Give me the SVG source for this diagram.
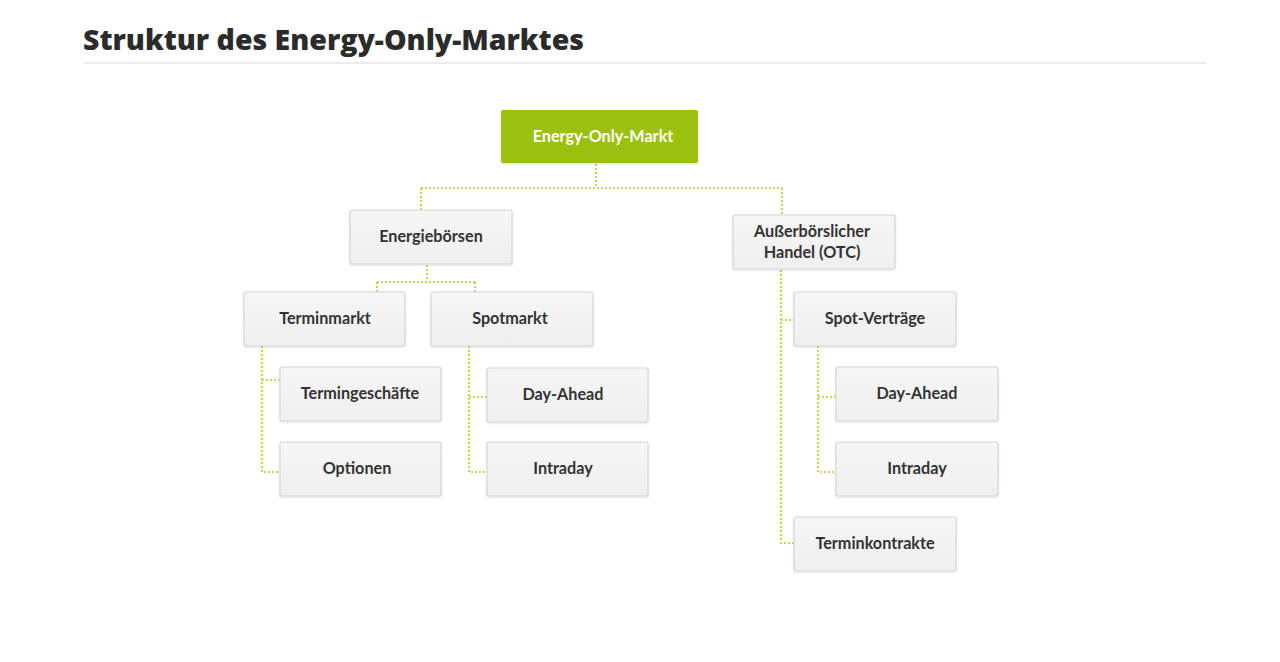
<svg xmlns="http://www.w3.org/2000/svg" width="1280" height="662" viewBox="0 0 1280 662">
<defs>
<linearGradient id="g" x1="0" y1="0" x2="0" y2="1"><stop offset="0" stop-color="#f6f6f6"/><stop offset="1" stop-color="#efefef"/></linearGradient>
<filter id="sh" x="-10%" y="-10%" width="120%" height="130%"><feDropShadow dx="0" dy="1" stdDeviation="1" flood-color="#000" flood-opacity="0.12"/></filter>
</defs>
<style>
.box{fill:url(#g);stroke:#d6d6d6;stroke-width:1.2;filter:url(#sh)}
.lbl{font-family:Lato,"Open Sans","Liberation Sans",sans-serif;font-weight:bold;font-size:16.2px;fill:#333;text-anchor:middle}
.con{fill:none;stroke:#b3cc24;stroke-width:1.6;stroke-dasharray:2 2}
</style>
<rect width="1280" height="662" fill="#fff"/>
<text x="83" y="50" font-family="'Open Sans','Liberation Sans',sans-serif" font-weight="800" font-size="27.5" fill="#2b2b2b" textLength="501" lengthAdjust="spacingAndGlyphs">Struktur des Energy-Only-Marktes</text>
<line x1="83" y1="63" x2="1206" y2="63" stroke="#d9d9d9" stroke-width="1.2"/>
<g id="connectors">
<path class="con" d="M596 164V188M421 188H782M421 188V210M782 188V215"/>
<path class="con" d="M427 265V282M377 282H475M377 282V292M475 282V292"/>
<path class="con" d="M262 346V472H280M262 380H280"/>
<path class="con" d="M469 346V472H487M469 397H487"/>
<path class="con" d="M781 270V543H794M781 320H794"/>
<path class="con" d="M818 346V472H836M818 397H836"/>
</g>
<g id="n-root"><rect x="501" y="110" width="197" height="53" rx="2" fill="#9bc00f" filter="url(#sh)"/><text class="lbl" x="603" y="142" style="fill:#fff">Energy-Only-Markt</text></g>
<g id="n-boersen"><rect class="box" x="350" y="210" width="162" height="54" rx="2"/><text class="lbl" x="431" y="242">Energiebörsen</text></g>
<g id="n-otc"><rect class="box" x="733" y="215" width="162" height="54" rx="2"/><text class="lbl" x="812" y="237">Außerbörslicher</text><text class="lbl" x="812" y="258">Handel (OTC)</text></g>
<g id="n-terminmarkt"><rect class="box" x="244" y="292" width="161" height="54" rx="2"/><text class="lbl" x="325" y="324">Terminmarkt</text></g>
<g id="n-spotmarkt"><rect class="box" x="431" y="292" width="162" height="54" rx="2"/><text class="lbl" x="510" y="324">Spotmarkt</text></g>
<g id="n-termingeschaefte"><rect class="box" x="280" y="367" width="161" height="54" rx="2"/><text class="lbl" x="360" y="399">Termingeschäfte</text></g>
<g id="n-optionen"><rect class="box" x="280" y="442" width="161" height="54" rx="2"/><text class="lbl" x="357" y="474">Optionen</text></g>
<g id="n-dayahead1"><rect class="box" x="487" y="368" width="161" height="54" rx="2"/><text class="lbl" x="563" y="400">Day-Ahead</text></g>
<g id="n-intraday1"><rect class="box" x="487" y="442" width="161" height="54" rx="2"/><text class="lbl" x="563" y="474">Intraday</text></g>
<g id="n-spotvertraege"><rect class="box" x="794" y="292" width="162" height="54" rx="2"/><text class="lbl" x="875" y="324">Spot-Verträge</text></g>
<g id="n-dayahead2"><rect class="box" x="836" y="367" width="162" height="54" rx="2"/><text class="lbl" x="917" y="399">Day-Ahead</text></g>
<g id="n-intraday2"><rect class="box" x="836" y="442" width="162" height="54" rx="2"/><text class="lbl" x="917" y="474">Intraday</text></g>
<g id="n-terminkontrakte"><rect class="box" x="794" y="517" width="162" height="54" rx="2"/><text class="lbl" x="875" y="549">Terminkontrakte</text></g>
</svg>
